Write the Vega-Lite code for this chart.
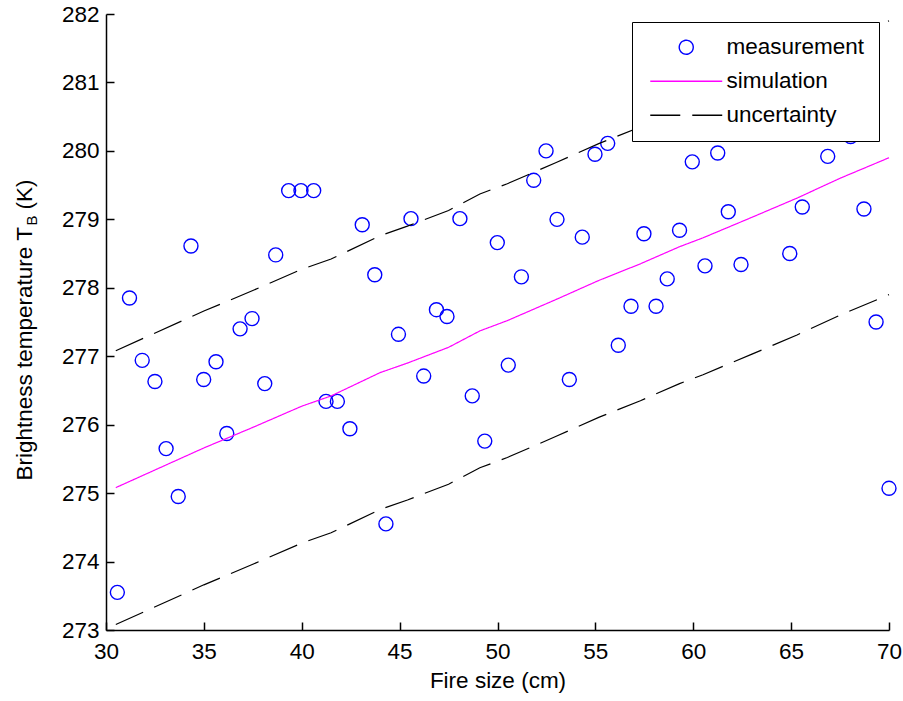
{
  "$schema": "https://vega.github.io/schema/vega-lite/v6.json",
  "width": 783,
  "height": 616,
  "autosize": {"type": "none"},
  "padding": {"left": 106, "top": 14, "right": 14, "bottom": 71},
  "background": "white",
  "config": {
    "font": "Liberation Sans",
    "view": {"stroke": null},
    "axis": {
      "domainColor": "black",
      "tickColor": "black",
      "labelColor": "black",
      "titleColor": "black",
      "labelFontSize": 22.5,
      "titleFontSize": 22.5,
      "titleFontWeight": "normal",
      "grid": false,
      "tickSize": -8,
      "domainWidth": 1.5,
      "tickWidth": 1.5,
      "labelFlush": false,
      "labelOverlap": false
    },
    "legend": {
      "orient": "none",
      "legendX": 526,
      "legendY": 8,
      "padding": 14,
      "strokeColor": "black",
      "fillColor": "white",
      "cornerRadius": 0,
      "symbolSize": 196,
      "symbolStrokeWidth": 1.4,
      "symbolOffset": 29,
      "labelOffset": 29,
      "labelFontSize": 22.5,
      "labelColor": "black",
      "rowPadding": 11,
      "labelLimit": 300
    }
  },
  "datasets": {
    "measurement": [
      {"fire_size_cm": 30.58, "tb_k": 273.55, "series": "measurement"},
      {"fire_size_cm": 31.20, "tb_k": 277.85, "series": "measurement"},
      {"fire_size_cm": 31.85, "tb_k": 276.94, "series": "measurement"},
      {"fire_size_cm": 32.50, "tb_k": 276.63, "series": "measurement"},
      {"fire_size_cm": 33.07, "tb_k": 275.65, "series": "measurement"},
      {"fire_size_cm": 33.69, "tb_k": 274.95, "series": "measurement"},
      {"fire_size_cm": 34.34, "tb_k": 278.61, "series": "measurement"},
      {"fire_size_cm": 34.99, "tb_k": 276.66, "series": "measurement"},
      {"fire_size_cm": 35.62, "tb_k": 276.92, "series": "measurement"},
      {"fire_size_cm": 36.17, "tb_k": 275.87, "series": "measurement"},
      {"fire_size_cm": 36.85, "tb_k": 277.40, "series": "measurement"},
      {"fire_size_cm": 37.46, "tb_k": 277.55, "series": "measurement"},
      {"fire_size_cm": 38.11, "tb_k": 276.60, "series": "measurement"},
      {"fire_size_cm": 38.67, "tb_k": 278.48, "series": "measurement"},
      {"fire_size_cm": 39.33, "tb_k": 279.42, "series": "measurement"},
      {"fire_size_cm": 39.96, "tb_k": 279.42, "series": "measurement"},
      {"fire_size_cm": 40.61, "tb_k": 279.42, "series": "measurement"},
      {"fire_size_cm": 41.24, "tb_k": 276.34, "series": "measurement"},
      {"fire_size_cm": 41.82, "tb_k": 276.34, "series": "measurement"},
      {"fire_size_cm": 42.46, "tb_k": 275.94, "series": "measurement"},
      {"fire_size_cm": 43.09, "tb_k": 278.92, "series": "measurement"},
      {"fire_size_cm": 43.73, "tb_k": 278.19, "series": "measurement"},
      {"fire_size_cm": 44.30, "tb_k": 274.55, "series": "measurement"},
      {"fire_size_cm": 44.94, "tb_k": 277.32, "series": "measurement"},
      {"fire_size_cm": 45.58, "tb_k": 279.01, "series": "measurement"},
      {"fire_size_cm": 46.23, "tb_k": 276.71, "series": "measurement"},
      {"fire_size_cm": 46.88, "tb_k": 277.68, "series": "measurement"},
      {"fire_size_cm": 47.42, "tb_k": 277.58, "series": "measurement"},
      {"fire_size_cm": 48.08, "tb_k": 279.01, "series": "measurement"},
      {"fire_size_cm": 48.71, "tb_k": 276.42, "series": "measurement"},
      {"fire_size_cm": 49.35, "tb_k": 275.76, "series": "measurement"},
      {"fire_size_cm": 49.99, "tb_k": 278.66, "series": "measurement"},
      {"fire_size_cm": 50.55, "tb_k": 276.87, "series": "measurement"},
      {"fire_size_cm": 51.22, "tb_k": 278.16, "series": "measurement"},
      {"fire_size_cm": 51.85, "tb_k": 279.57, "series": "measurement"},
      {"fire_size_cm": 52.48, "tb_k": 280.00, "series": "measurement"},
      {"fire_size_cm": 53.04, "tb_k": 279.00, "series": "measurement"},
      {"fire_size_cm": 53.67, "tb_k": 276.66, "series": "measurement"},
      {"fire_size_cm": 54.33, "tb_k": 278.74, "series": "measurement"},
      {"fire_size_cm": 54.98, "tb_k": 279.95, "series": "measurement"},
      {"fire_size_cm": 55.63, "tb_k": 280.11, "series": "measurement"},
      {"fire_size_cm": 56.17, "tb_k": 277.16, "series": "measurement"},
      {"fire_size_cm": 56.82, "tb_k": 277.73, "series": "measurement"},
      {"fire_size_cm": 57.48, "tb_k": 278.79, "series": "measurement"},
      {"fire_size_cm": 58.10, "tb_k": 277.73, "series": "measurement"},
      {"fire_size_cm": 58.67, "tb_k": 278.13, "series": "measurement"},
      {"fire_size_cm": 59.30, "tb_k": 278.84, "series": "measurement"},
      {"fire_size_cm": 59.95, "tb_k": 279.84, "series": "measurement"},
      {"fire_size_cm": 60.60, "tb_k": 278.32, "series": "measurement"},
      {"fire_size_cm": 61.25, "tb_k": 279.97, "series": "measurement"},
      {"fire_size_cm": 61.79, "tb_k": 279.11, "series": "measurement"},
      {"fire_size_cm": 62.44, "tb_k": 278.34, "series": "measurement"},
      {"fire_size_cm": 64.93, "tb_k": 278.50, "series": "measurement"},
      {"fire_size_cm": 65.57, "tb_k": 279.18, "series": "measurement"},
      {"fire_size_cm": 66.87, "tb_k": 279.92, "series": "measurement"},
      {"fire_size_cm": 68.04, "tb_k": 280.21, "series": "measurement"},
      {"fire_size_cm": 68.72, "tb_k": 279.15, "series": "measurement"},
      {"fire_size_cm": 69.34, "tb_k": 277.50, "series": "measurement"},
      {"fire_size_cm": 70.00, "tb_k": 275.07, "series": "measurement"}
    ],
    "simulation": [
      {"fire_size_cm": 30.5, "tb_k": 275.08, "series": "simulation"},
      {"fire_size_cm": 35.0, "tb_k": 275.66, "series": "simulation"},
      {"fire_size_cm": 37.5, "tb_k": 275.96, "series": "simulation"},
      {"fire_size_cm": 40.0, "tb_k": 276.27, "series": "simulation"},
      {"fire_size_cm": 41.5, "tb_k": 276.42, "series": "simulation"},
      {"fire_size_cm": 44.0, "tb_k": 276.76, "series": "simulation"},
      {"fire_size_cm": 45.4, "tb_k": 276.90, "series": "simulation"},
      {"fire_size_cm": 47.5, "tb_k": 277.13, "series": "simulation"},
      {"fire_size_cm": 49.1, "tb_k": 277.37, "series": "simulation"},
      {"fire_size_cm": 50.5, "tb_k": 277.52, "series": "simulation"},
      {"fire_size_cm": 53.0, "tb_k": 277.83, "series": "simulation"},
      {"fire_size_cm": 55.2, "tb_k": 278.11, "series": "simulation"},
      {"fire_size_cm": 57.3, "tb_k": 278.35, "series": "simulation"},
      {"fire_size_cm": 59.3, "tb_k": 278.60, "series": "simulation"},
      {"fire_size_cm": 60.5, "tb_k": 278.73, "series": "simulation"},
      {"fire_size_cm": 63.0, "tb_k": 279.03, "series": "simulation"},
      {"fire_size_cm": 65.3, "tb_k": 279.31, "series": "simulation"},
      {"fire_size_cm": 67.5, "tb_k": 279.60, "series": "simulation"},
      {"fire_size_cm": 70.0, "tb_k": 279.90, "series": "simulation"}
    ],
    "uncertainty": [
      {"fire_size_cm": 30.5, "tb_k": 277.08, "bound": "upper", "series": "uncertainty"},
      {"fire_size_cm": 35.0, "tb_k": 277.66, "bound": "upper", "series": "uncertainty"},
      {"fire_size_cm": 37.5, "tb_k": 277.96, "bound": "upper", "series": "uncertainty"},
      {"fire_size_cm": 40.0, "tb_k": 278.27, "bound": "upper", "series": "uncertainty"},
      {"fire_size_cm": 41.5, "tb_k": 278.42, "bound": "upper", "series": "uncertainty"},
      {"fire_size_cm": 44.0, "tb_k": 278.76, "bound": "upper", "series": "uncertainty"},
      {"fire_size_cm": 45.4, "tb_k": 278.90, "bound": "upper", "series": "uncertainty"},
      {"fire_size_cm": 47.5, "tb_k": 279.13, "bound": "upper", "series": "uncertainty"},
      {"fire_size_cm": 49.1, "tb_k": 279.37, "bound": "upper", "series": "uncertainty"},
      {"fire_size_cm": 50.5, "tb_k": 279.52, "bound": "upper", "series": "uncertainty"},
      {"fire_size_cm": 53.0, "tb_k": 279.83, "bound": "upper", "series": "uncertainty"},
      {"fire_size_cm": 55.2, "tb_k": 280.11, "bound": "upper", "series": "uncertainty"},
      {"fire_size_cm": 57.3, "tb_k": 280.35, "bound": "upper", "series": "uncertainty"},
      {"fire_size_cm": 59.3, "tb_k": 280.60, "bound": "upper", "series": "uncertainty"},
      {"fire_size_cm": 60.5, "tb_k": 280.73, "bound": "upper", "series": "uncertainty"},
      {"fire_size_cm": 63.0, "tb_k": 281.03, "bound": "upper", "series": "uncertainty"},
      {"fire_size_cm": 65.3, "tb_k": 281.31, "bound": "upper", "series": "uncertainty"},
      {"fire_size_cm": 67.5, "tb_k": 281.60, "bound": "upper", "series": "uncertainty"},
      {"fire_size_cm": 70.0, "tb_k": 281.90, "bound": "upper", "series": "uncertainty"},
      {"fire_size_cm": 30.5, "tb_k": 273.08, "bound": "lower", "series": "uncertainty"},
      {"fire_size_cm": 35.0, "tb_k": 273.66, "bound": "lower", "series": "uncertainty"},
      {"fire_size_cm": 37.5, "tb_k": 273.96, "bound": "lower", "series": "uncertainty"},
      {"fire_size_cm": 40.0, "tb_k": 274.27, "bound": "lower", "series": "uncertainty"},
      {"fire_size_cm": 41.5, "tb_k": 274.42, "bound": "lower", "series": "uncertainty"},
      {"fire_size_cm": 44.0, "tb_k": 274.76, "bound": "lower", "series": "uncertainty"},
      {"fire_size_cm": 45.4, "tb_k": 274.90, "bound": "lower", "series": "uncertainty"},
      {"fire_size_cm": 47.5, "tb_k": 275.13, "bound": "lower", "series": "uncertainty"},
      {"fire_size_cm": 49.1, "tb_k": 275.37, "bound": "lower", "series": "uncertainty"},
      {"fire_size_cm": 50.5, "tb_k": 275.52, "bound": "lower", "series": "uncertainty"},
      {"fire_size_cm": 53.0, "tb_k": 275.83, "bound": "lower", "series": "uncertainty"},
      {"fire_size_cm": 55.2, "tb_k": 276.11, "bound": "lower", "series": "uncertainty"},
      {"fire_size_cm": 57.3, "tb_k": 276.35, "bound": "lower", "series": "uncertainty"},
      {"fire_size_cm": 59.3, "tb_k": 276.60, "bound": "lower", "series": "uncertainty"},
      {"fire_size_cm": 60.5, "tb_k": 276.73, "bound": "lower", "series": "uncertainty"},
      {"fire_size_cm": 63.0, "tb_k": 277.03, "bound": "lower", "series": "uncertainty"},
      {"fire_size_cm": 65.3, "tb_k": 277.31, "bound": "lower", "series": "uncertainty"},
      {"fire_size_cm": 67.5, "tb_k": 277.60, "bound": "lower", "series": "uncertainty"},
      {"fire_size_cm": 70.0, "tb_k": 277.90, "bound": "lower", "series": "uncertainty"}
    ]
  },
  "layer": [
    {
      "data": {"name": "measurement"},
      "mark": {"type": "point", "filled": false, "size": 196, "strokeWidth": 1.4, "opacity": 1},
      "encoding": {
        "x": {
          "field": "fire_size_cm", "type": "quantitative",
          "scale": {"domain": [30, 70], "nice": false, "zero": false},
          "axis": {
            "title": "Fire size (cm)",
            "values": [30, 35, 40, 45, 50, 55, 60, 65, 70],
            "labelPadding": 18,
            "titleY": 57,
            "titleBaseline": "alphabetic"
          }
        },
        "y": {
          "field": "tb_k", "type": "quantitative",
          "scale": {"domain": [273, 282], "nice": false, "zero": false},
          "axis": {
            "orient": "left",
            "title": "Brightness temperature T",
            "values": [273, 274, 275, 276, 277, 278, 279, 280, 281, 282],
            "labelPadding": 15,
            "titleAngle": 270,
            "titleAlign": "left",
            "titleBaseline": "alphabetic",
            "titleX": -75,
            "titleY": 466
          }
        },
        "color": {
          "field": "series", "type": "nominal",
          "scale": {"domain": ["measurement", "simulation", "uncertainty"], "range": ["#0000FF", "#FF00FF", "#000000"]},
          "legend": {"title": null}
        },
        "shape": {
          "field": "series", "type": "nominal",
          "scale": {"domain": ["measurement", "simulation", "uncertainty"], "range": ["circle", "M-5.14,0H5.14", "M-5.14,0H5.14"]},
          "legend": {"title": null}
        }
      }
    },
    {
      "data": {"name": "simulation"},
      "mark": {"type": "line", "strokeWidth": 1.2},
      "encoding": {
        "x": {"field": "fire_size_cm", "type": "quantitative"},
        "y": {
          "field": "tb_k", "type": "quantitative",
          "axis": {
            "orient": "left",
            "title": "B",
            "titleFontSize": 15,
            "labels": false, "ticks": false, "domain": false,
            "titleAngle": 270,
            "titleAlign": "left",
            "titleBaseline": "alphabetic",
            "titleX": -70,
            "titleY": 211
          }
        },
        "color": {"field": "series", "type": "nominal", "legend": {"title": null}},
        "strokeDash": {
          "field": "series", "type": "nominal",
          "scale": {"domain": ["measurement", "simulation", "uncertainty"], "range": [[1, 0], [1, 0], [30, 12]]},
          "legend": {"title": null}
        }
      }
    },
    {
      "data": {"name": "uncertainty"},
      "mark": {"type": "line", "strokeWidth": 1.2},
      "encoding": {
        "x": {"field": "fire_size_cm", "type": "quantitative"},
        "y": {
          "field": "tb_k", "type": "quantitative",
          "axis": {
            "orient": "left",
            "title": "(K)",
            "labels": false, "ticks": false, "domain": false,
            "titleAngle": 270,
            "titleAlign": "left",
            "titleBaseline": "alphabetic",
            "titleX": -75,
            "titleY": 195
          }
        },
        "detail": {"field": "bound", "type": "nominal"},
        "color": {"field": "series", "type": "nominal", "legend": {"title": null}},
        "strokeDash": {"field": "series", "type": "nominal", "legend": {"title": null}}
      }
    }
  ],
  "resolve": {"axis": {"y": "independent"}}
}
